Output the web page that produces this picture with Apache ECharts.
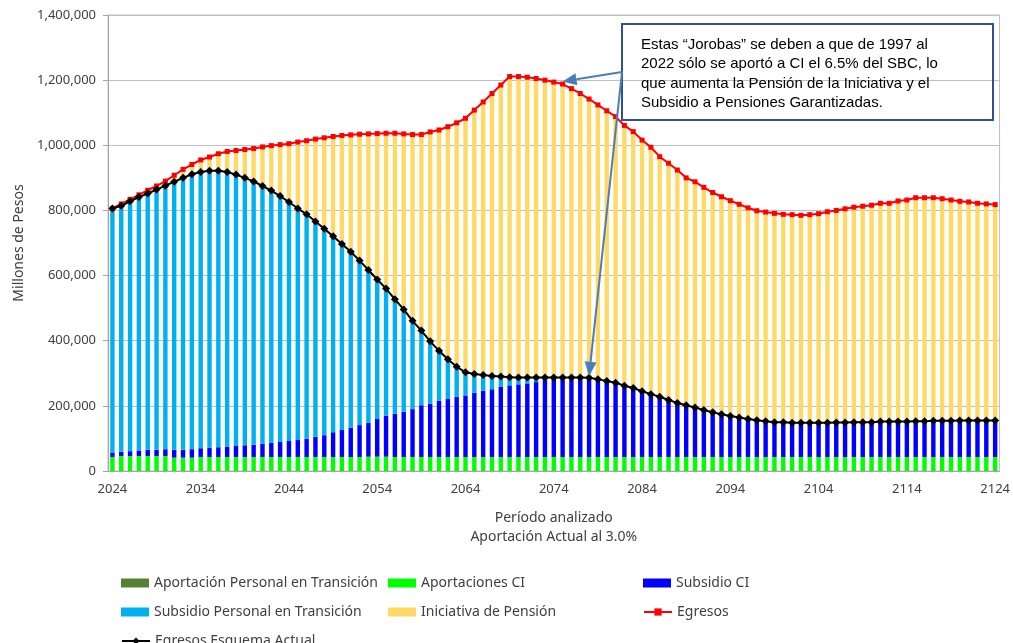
<!DOCTYPE html>
<html>
<head>
<meta charset="utf-8">
<script src="https://cdn.jsdelivr.net/npm/echarts@6/dist/echarts.min.js"></script>
<style>
html, body { margin: 0; padding: 0; background: #fff; }
#main { width: 1013px; height: 643px; }
</style>
</head>
<body>
<div id="main"></div>
<script>
// años 2024 - 2124
var years = [];
for (var yr = 2024; yr <= 2124; yr++) years.push(String(yr));

var aportPersonal = [
    0, 0, 0, 0, 0, 0, 0, 0, 0, 0,
    0, 0, 0, 0, 0, 0, 0, 0, 0, 0,
    0, 0, 0, 0, 0, 0, 0, 0, 0, 0,
    0, 0, 0, 0, 0, 0, 0, 0, 0, 0,
    0, 0, 0, 0, 0, 0, 0, 0, 0, 0,
    0, 0, 0, 0, 0, 0, 0, 0, 0, 0,
    0, 0, 0, 0, 0, 0, 0, 0, 0, 0,
    0, 0, 0, 0, 0, 0, 0, 0, 0, 0,
    0, 0, 0, 0, 0, 0, 0, 0, 0, 0,
    0, 0, 0, 0, 0, 0, 0, 0, 0, 0,
    0
];

var aportCI = [
    43000, 46000, 46000, 46000, 46000, 46000, 46000, 41000, 41000, 41000,
    43000, 43000, 43000, 43000, 43000, 43000, 43000, 43000, 43000, 43000,
    43000, 43000, 43000, 43000, 43000, 43000, 43000, 43000, 43000, 44000,
    44000, 44000, 43000, 43000, 43000, 43000, 43000, 43000, 43000, 43000,
    43000, 43000, 43000, 43000, 43000, 43000, 43000, 43000, 43000, 43000,
    43000, 43000, 43000, 43000, 43000, 43000, 43000, 43000, 43000, 43000,
    43000, 43000, 43000, 43000, 43000, 43000, 43000, 43000, 43000, 43000,
    43000, 43000, 43000, 43000, 43000, 43000, 43000, 43000, 43000, 43000,
    43000, 43000, 43000, 43000, 43000, 43000, 43000, 43000, 43000, 43000,
    43000, 43000, 43000, 43000, 43000, 43000, 43000, 43000, 43000, 43000,
    43000
];

var subsidioCI = [
    14000, 13000, 15000, 17000, 19000, 19000, 21000, 24000, 24000, 26000,
    27000, 29000, 30000, 32000, 34000, 36000, 38000, 41000, 44000, 46000,
    49000, 54000, 56000, 62000, 67000, 76000, 83000, 90000, 98000, 104000,
    116000, 126000, 133000, 139000, 147000, 159000, 163000, 173000, 178000, 185000,
    189000, 197000, 203000, 208000, 215000, 220000, 223000, 226000, 230000, 238000,
    244000, 244000, 244000, 244000, 243000, 239000, 233000, 228000, 219000, 212000,
    202000, 193000, 185000, 175000, 166000, 159000, 152000, 144000, 137000, 131000,
    126000, 121000, 117000, 113000, 110000, 107000, 107000, 105000, 105000, 105000,
    105000, 105000, 106000, 106000, 107000, 107000, 107000, 109000, 109000, 109000,
    109000, 110000, 110000, 111000, 111000, 111000, 112000, 112000, 112000, 112000,
    112000
];

var subsidioPersonal = [
    749000, 755000, 767000, 778000, 787000, 799000, 809000, 823000, 835000, 844000,
    848000, 850000, 849000, 843000, 833000, 821000, 808000, 791000, 774000, 755000,
    734000, 709000, 689000, 661000, 634000, 602000, 571000, 540000, 505000, 469000,
    428000, 390000, 351000, 314000, 271000, 229000, 192000, 153000, 122000, 92000,
    71000, 58000, 49000, 41000, 32000, 25000, 21000, 18000, 14000, 6000,
    0, 0, 0, 0, 0, 0, 0, 0, 0, 0,
    0, 0, 0, 0, 0, 0, 0, 0, 0, 0,
    0, 0, 0, 0, 0, 0, 0, 0, 0, 0,
    0, 0, 0, 0, 0, 0, 0, 0, 0, 0,
    0, 0, 0, 0, 0, 0, 0, 0, 0, 0,
    0
];

var iniciativa = [
    0, 6000, 6000, 7000, 10000, 11000, 14000, 20000, 26000, 30000,
    37000, 42000, 52000, 63000, 74000, 87000, 101000, 120000, 138000, 158000,
    179000, 204000, 226000, 253000, 279000, 306000, 333000, 359000, 388000, 418000,
    448000, 477000, 510000, 539000, 572000, 602000, 643000, 678000, 714000, 749000,
    780000, 810000, 838000, 867000, 895000, 923000, 924000, 922000, 918000, 913000,
    907000, 901000, 887000, 872000, 856000, 842000, 830000, 817000, 799000, 787000,
    771000, 758000, 737000, 727000, 715000, 698000, 693000, 684000, 675000, 668000,
    661000, 655000, 648000, 643000, 642000, 641000, 638000, 639000, 637000, 639000,
    642000, 648000, 651000, 656000, 660000, 663000, 666000, 670000, 670000, 677000,
    680000, 686000, 686000, 685000, 682000, 678000, 673000, 671000, 667000, 665000,
    663000
];

var egresos = [
    806000, 820000, 834000, 848000, 862000, 875000, 890000, 908000, 926000, 941000,
    955000, 964000, 974000, 981000, 984000, 987000, 990000, 995000, 999000, 1002000,
    1005000, 1010000, 1014000, 1019000, 1023000, 1027000, 1030000, 1032000, 1034000, 1035000,
    1036000, 1037000, 1037000, 1035000, 1033000, 1033000, 1041000, 1047000, 1057000, 1069000,
    1083000, 1108000, 1133000, 1159000, 1185000, 1211000, 1211000, 1209000, 1205000, 1200000,
    1194000, 1188000, 1174000, 1159000, 1142000, 1124000, 1106000, 1088000, 1061000, 1042000,
    1016000, 994000, 965000, 945000, 924000, 900000, 888000, 871000, 855000, 842000,
    830000, 819000, 808000, 799000, 795000, 791000, 788000, 787000, 785000, 787000,
    790000, 796000, 800000, 805000, 810000, 813000, 816000, 822000, 822000, 829000,
    832000, 839000, 839000, 839000, 836000, 832000, 828000, 826000, 822000, 820000,
    818000
];

var egresosActual = [
    806000, 814000, 828000, 841000, 852000, 864000, 876000, 888000, 900000, 911000,
    918000, 922000, 922000, 918000, 910000, 900000, 889000, 875000, 861000, 844000,
    826000, 806000, 788000, 766000, 744000, 721000, 697000, 673000, 646000, 617000,
    588000, 560000, 527000, 496000, 461000, 431000, 398000, 369000, 343000, 320000,
    303000, 298000, 295000, 292000, 290000, 288000, 287000, 287000, 287000, 287000,
    287000, 287000, 287000, 287000, 286000, 282000, 276000, 271000, 262000, 255000,
    245000, 236000, 228000, 218000, 209000, 202000, 195000, 187000, 180000, 174000,
    169000, 164000, 160000, 156000, 153000, 150000, 150000, 148000, 148000, 148000,
    148000, 148000, 149000, 149000, 150000, 150000, 150000, 152000, 152000, 152000,
    152000, 153000, 153000, 154000, 154000, 154000, 155000, 155000, 155000, 155000,
    155000
];

var nota = [
    'Estas \u201cJorobas\u201d se deben a que de 1997 al',
    '2022 sólo se aportó a CI el 6.5% del SBC, lo',
    'que aumenta la Pensión de la Iniciativa y el',
    'Subsidio a Pensiones Garantizadas.'
];

var txt = '#404040';
var font = 'Noto Sans';

function barra(name, color, data) {
    return {
        name: name,
        type: 'bar',
        stack: 'total',
        barWidth: '50%',
        itemStyle: { color: color },
        data: data
    };
}

function linea(name, color, symbol, size, z, data) {
    return {
        name: name,
        type: 'line',
        symbol: symbol,
        symbolSize: size,
        showAllSymbol: true,
        itemStyle: { color: color },
        lineStyle: { color: color, width: 2 },
        z: z,
        data: data
    };
}

// una leyenda por elemento para acomodarlas en tres columnas
function leyenda(left, top, name, icon) {
    var item = icon ? { name: name, icon: icon } : name;
    return {
        left: left,
        top: top,
        itemWidth: 28,
        itemHeight: 9,
        textStyle: { color: txt, fontFamily: font, fontSize: 14, lineHeight: 16 },
        data: [item]
    };
}

var myChart = echarts.init(document.getElementById('main'));
var option = {
    animation: false,
    grid: {
        left: 108, right: 12, top: 15, bottom: 172,
        show: true, borderColor: '#bfbfbf', borderWidth: 1
    },
    legend: [
        leyenda(116, 570, 'Aportación Personal en Transición', 'rect'),
        leyenda(383, 570, 'Aportaciones CI', 'rect'),
        leyenda(638, 570, 'Subsidio CI', 'rect'),
        leyenda(116, 599, 'Subsidio Personal en Transición', 'rect'),
        leyenda(383, 599, 'Iniciativa de Pensión', 'rect'),
        leyenda(638, 599, 'Egresos'),
        leyenda(116, 628, 'Egresos Esquema Actual')
    ],
    xAxis: {
        type: 'category',
        data: years,
        name: 'Período analizado\nAportación Actual al 3.0%',
        nameLocation: 'middle',
        nameGap: 38,
        nameTextStyle: { color: txt, fontFamily: font, fontSize: 14, lineHeight: 19 },
        axisLine: { lineStyle: { color: '#a6a6a6' } },
        axisTick: { interval: 4, length: 6, lineStyle: { color: '#a6a6a6' } },
        axisLabel: { interval: 9, color: txt, fontFamily: font, fontSize: 13, margin: 12 }
    },
    yAxis: {
        type: 'value',
        min: 0,
        max: 1400000,
        interval: 200000,
        name: 'Millones de Pesos',
        nameLocation: 'middle',
        nameGap: 82,
        nameTextStyle: { color: txt, fontFamily: font, fontSize: 14 },
        axisLine: { show: true, lineStyle: { color: '#a6a6a6' } },
        axisTick: { show: true, length: 5, lineStyle: { color: '#a6a6a6' } },
        splitLine: { lineStyle: { color: '#bfbfbf' } },
        axisLabel: {
            color: txt, fontFamily: font, fontSize: 13, margin: 12,
            formatter: function (v) { return v.toLocaleString('en-US'); }
        }
    },
    series: [
        barra('Aportación Personal en Transición', '#548235', aportPersonal),
        barra('Aportaciones CI', '#00ff00', aportCI),
        barra('Subsidio CI', '#0000ff', subsidioCI),
        barra('Subsidio Personal en Transición', '#00b0f0', subsidioPersonal),
        barra('Iniciativa de Pensión', '#ffd966', iniciativa),
        linea('Egresos', '#ff0000', 'rect', 5, 5, egresos),
        linea('Egresos Esquema Actual', '#000000', 'diamond', 8, 6, egresosActual)
    ]
};
myChart.setOption(option);

// cuadro de nota con flechas
var caja = { x: 622, y: 24, w: 371, h: 96 };
var origen = [caja.x, 72];
var azul = '#4a7ebb';

function flecha(desde, punta) {
    var dx = punta[0] - desde[0], dy = punta[1] - desde[1];
    var len = Math.sqrt(dx * dx + dy * dy);
    var ux = dx / len, uy = dy / len;
    var hl = 14, hw = 6;
    var bx = punta[0] - ux * hl, by = punta[1] - uy * hl;
    return [
        { type: 'line', shape: { x1: desde[0], y1: desde[1], x2: bx, y2: by }, style: { stroke: azul, lineWidth: 2 }, z: 20 },
        { type: 'polygon', shape: { points: [punta, [bx - uy * hw, by + ux * hw], [bx + uy * hw, by - ux * hw]] }, style: { fill: azul }, z: 20 }
    ];
}

var p1 = myChart.convertToPixel({ xAxisIndex: 0, yAxisIndex: 0 }, ['2075', 1196000]);
var p2 = myChart.convertToPixel({ xAxisIndex: 0, yAxisIndex: 0 }, ['2078', 292000]);

var elementos = [
    {
        type: 'rect',
        shape: { x: caja.x, y: caja.y, width: caja.w, height: caja.h },
        style: { fill: 'none', stroke: '#2f528f', lineWidth: 2 },
        z: 20
    },
    {
        type: 'text',
        x: 641,
        y: 35,
        style: {
            text: nota.join('\n'),
            fontFamily: 'Liberation Sans',
            fontSize: 15,
            lineHeight: 19.5,
            fill: '#000000'
        },
        z: 21
    }
].concat(flecha(origen, p1), flecha(origen, p2));

myChart.setOption({ graphic: { elements: elementos } });
</script>
</body>
</html>
